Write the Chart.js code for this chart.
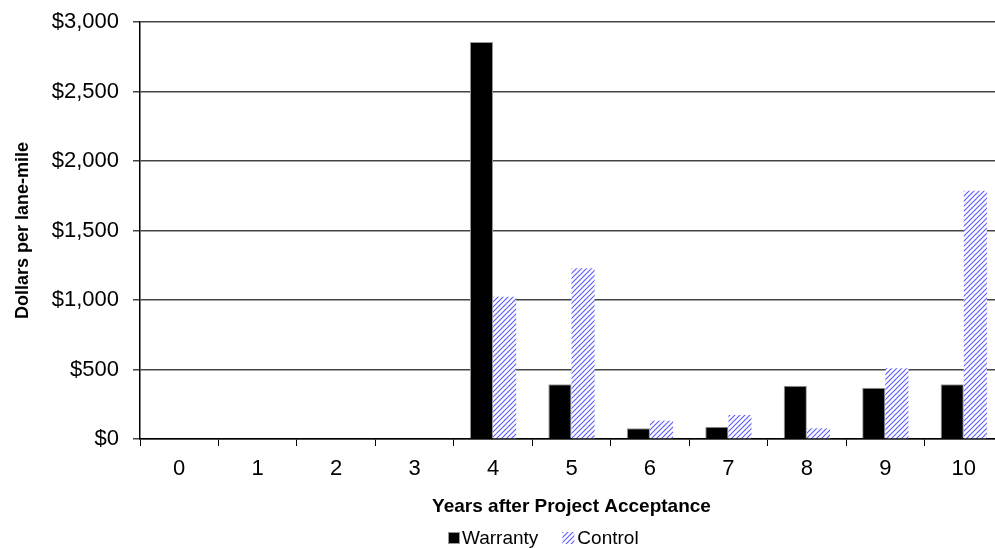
<!DOCTYPE html>
<html><head><meta charset="utf-8">
<script src="https://cdn.jsdelivr.net/npm/chart.js@4/dist/chart.umd.min.js"></script>
<style>html,body{margin:0;padding:0;background:#fff;overflow:hidden;}#wrap{width:995px;height:548px;overflow:hidden;}</style>
</head><body><div id="wrap"><canvas id="c" width="1003" height="548"></canvas></div>
<script>
const categories = ['0','1','2','3','4','5','6','7','8','9','10'];
const warranty = [0,0,0,0,2856,394,77,88,383,369,394];
const control  = [0,0,0,0,1024,1228,132,173,77,509,1786];
const yTicks = [0,500,1000,1500,2000,2500,3000];

function hatch(){
  const s=5, c=document.createElement('canvas'); c.width=s; c.height=s;
  const g=c.getContext('2d');
  g.fillStyle='#fff'; g.fillRect(0,0,s,s);
  g.strokeStyle='rgba(60,60,255,0.85)'; g.lineWidth=1.1;
  g.beginPath(); g.moveTo(-1,s+1); g.lineTo(s+1,-1); g.stroke();
  g.beginPath(); g.moveTo(-1,1); g.lineTo(1,-1); g.stroke();
  g.beginPath(); g.moveTo(s-1,s+1); g.lineTo(s+1,s-1); g.stroke();
  return document.getElementById('c').getContext('2d').createPattern(c,'repeat');
}
const pat = hatch();
const F = "'Liberation Sans', Arial, sans-serif";

const bottomLegend = {
  id:'bottomLegend',
  afterDraw(chart){
    const ctx=chart.ctx, ds=chart.data.datasets;
    ctx.save();
    ctx.font="19px "+F; ctx.textBaseline='middle'; ctx.fillStyle='#000';
    const y=538;
    let x=448;
    ctx.fillStyle=ds[0].backgroundColor; ctx.fillRect(x,y-6,12,12);
    ctx.strokeStyle='#999'; ctx.lineWidth=1; ctx.strokeRect(x+0.5,y-5.5,11,11);
    ctx.fillStyle='#000'; ctx.fillText(ds[0].label, x+14, y+1);
    x = x+14+ctx.measureText(ds[0].label).width+24;
    ctx.fillStyle=ds[1].backgroundColor; ctx.fillRect(x,y-6,12,12);
    ctx.fillStyle='#000'; ctx.fillText(ds[1].label, x+15, y+1);
    ctx.restore();
  }
};

new Chart(document.getElementById('c'), {
  type:'bar',
  data:{labels:categories, datasets:[
    {label:'Warranty', data:warranty, backgroundColor:'#000', borderColor:'#999', borderWidth:1, categoryPercentage:0.59, barPercentage:1},
    {label:'Control', data:control, backgroundColor:pat, borderWidth:0, categoryPercentage:0.59, barPercentage:1}
  ]},
  plugins:[bottomLegend],
  options:{
    responsive:false, animation:false, devicePixelRatio:1,
    layout:{padding:{top:22,right:0,left:0,bottom:0}},
    plugins:{ tooltip:{enabled:false}, legend:{display:false} },
    scales:{
      x:{
        grid:{display:true, drawOnChartArea:false, offset:true, tickLength:7, color:'#000', lineWidth:1},
        border:{display:true, color:'#000', width:1.5},
        ticks:{font:{family:F,size:22}, color:'#000', padding:10},
        title:{display:true, text:'Years after Project Acceptance', font:{family:F,size:19,weight:'bold'}, color:'#000', padding:{top:6,bottom:30}},
        afterFit(s){s.height=109;}
      },
      y:{
        min:0, max:3000,
        afterBuildTicks(s){s.ticks=yTicks.map(v=>({value:v}));},
        grid:{color:'#444', lineWidth:1.5, tickLength:7},
        border:{display:true, color:'#000', width:1.5},
        ticks:{font:{family:F,size:22}, color:'#000', padding:14,
          callback:v=>'$'+v.toLocaleString('en-US')},
        title:{display:true, text:'Dollars per lane-mile', font:{family:F,size:18,weight:'bold'}, color:'#000', padding:{top:12,bottom:0}},
        afterFit(s){s.width=140; s.paddingTop=0; s.paddingBottom=0;}
      }
    }
  }
});
</script></body></html>
